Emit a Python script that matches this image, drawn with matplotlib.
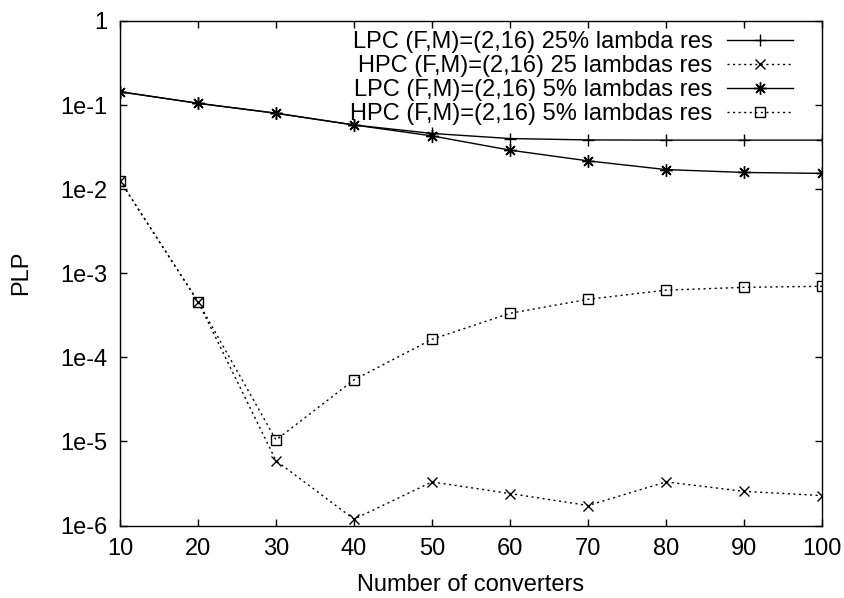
import matplotlib
matplotlib.use("Agg")
import matplotlib.pyplot as plt

plt.rcParams['font.family'] = ['Liberation Sans', 'DejaVu Sans']

converters = [10, 20, 30, 40, 50, 60, 70, 80, 90, 100]

lpc_25 = [0.144, 0.105, 0.080, 0.058, 0.046, 0.040, 0.0385, 0.0383, 0.0383, 0.0383]
hpc_25 = [0.0126, 4.6e-4, 5.9e-6, 1.19e-6, 3.3e-6, 2.4e-6, 1.73e-6, 3.3e-6, 2.55e-6, 2.27e-6]
lpc_5 = [0.144, 0.105, 0.080, 0.058, 0.043, 0.0291, 0.0217, 0.0171, 0.0158, 0.0154]
hpc_5 = [0.0126, 4.6e-4, 1.04e-5, 5.4e-5, 1.64e-4, 3.34e-4, 4.9e-4, 6.3e-4, 6.8e-4, 7.0e-4]

labels = ["LPC (F,M)=(2,16) 25% lambda res",
          "HPC (F,M)=(2,16) 25 lambdas res",
          "LPC (F,M)=(2,16) 5% lambdas res",
          "HPC (F,M)=(2,16) 5% lambdas res"]

y_ticks = [1, 1e-1, 1e-2, 1e-3, 1e-4, 1e-5, 1e-6]
y_tick_labels = ["1", "1e-1", "1e-2", "1e-3", "1e-4", "1e-5", "1e-6"]
x_ticks = [10, 20, 30, 40, 50, 60, 70, 80, 90, 100]

fig = plt.figure(figsize=(8.44, 5.98), dpi=100)
ax = fig.add_axes([0.1422, 0.1212, 0.8318, 0.8437])

dots = (0, (1.5, 2.5))
ax.plot(converters, lpc_25, color='black', lw=1, marker='+', ms=8, mew=1, label=labels[0])
ax.plot(converters, hpc_25, color='black', lw=1, ls=dots, marker='x', ms=7, mew=1, label=labels[1])
ax.plot(converters, lpc_5, color='black', lw=1, marker=(8, 2, 0), ms=9, mew=1, label=labels[2])
ax.plot(converters, hpc_5, color='black', lw=1, ls=dots, marker='s', ms=7, mew=1,
        mfc='none', label=labels[3])

ax.set_yscale('log')
ax.set_xlim(10, 100)
ax.set_ylim(1e-6, 1)
ax.set_xticks(x_ticks)
ax.set_yticks(y_ticks)
ax.set_yticklabels(y_tick_labels)
ax.minorticks_off()
ax.tick_params(direction='in', length=5, width=1, top=True, right=True,
               labelsize=17, pad=9, colors='black')
for s in ax.spines.values():
    s.set_linewidth(1)

ax.set_xlabel("Number of converters", fontsize=17, labelpad=10)
ax.set_ylabel("PLP", fontsize=17, labelpad=20)

# legend: text right-aligned, samples on the right, no frame
leg = ax.legend(loc='upper right', bbox_to_anchor=(0.9587, 0.980),
                markerfirst=False, frameon=False, fontsize=17,
                handlelength=2.8, handletextpad=0.62, labelspacing=0.09,
                borderaxespad=0, borderpad=0)

fig.savefig("out.png", dpi=100)
